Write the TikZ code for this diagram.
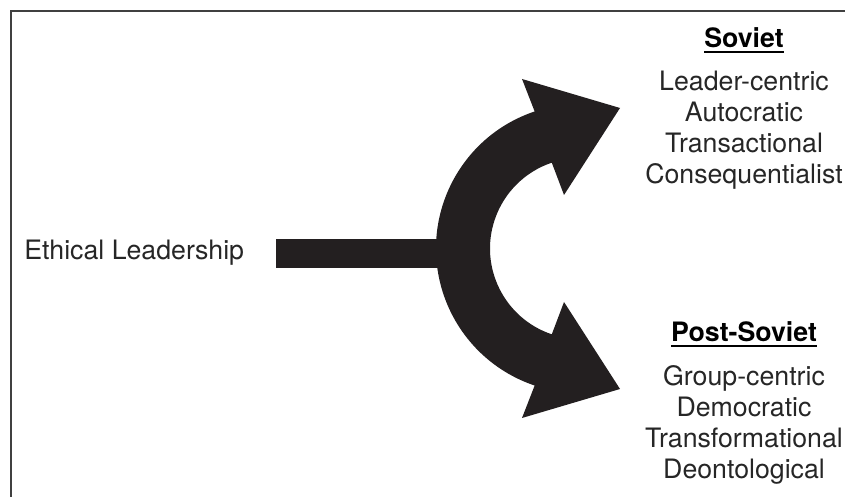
\documentclass[tikz,border=0pt]{standalone}
\usepackage{fontspec}
\setmainfont{TeX Gyre Heros}
\usetikzlibrary{calc,math}
\definecolor{arrowfill}{RGB}{35,31,32}
\newcommand{\headrule}[1]{\setbox0\hbox{#1}\rlap{\rule[-3.5pt]{\wd0}{1.4pt}}\box0}

\begin{document}
\begin{tikzpicture}
[x=0.025cm,y=0.025cm,
 item/.style={anchor=base,inner sep=0pt,text=black!85,font=\fontsize{19}{23}\selectfont},
 head/.style={item,text=black,font=\fontsize{19}{23}\selectfont\bfseries},]

\useasboundingbox (0,0) rectangle (845,497);

%Ring centre, outer and inner radii, end angle
\tikzmath{\cx = 580.5; \cy = 248.5; \R = 144.5; \r = 90.5; \t = 108.5; }
\coordinate (O) at (\cx,\cy);

%Frame, top and left edges
\draw[line width=1.2pt,black!75] (11,0) -- (11,486) -- (845,486);

%Stem
\fill[arrowfill] (276,229) rectangle (470,258);

%Split ring with both heads
\fill[arrowfill] (O) ++(\t:\R) arc[start angle=\t, end angle=360-\t, radius=\R]
  -- (522,79) -- (620,108) -- (564,195)
  -- ($(O)+(-\t:\r)$) arc[start angle=-\t, end angle=\t-360, radius=\r]
  -- (564,302) -- (620,389) -- (522,418) -- cycle;

%Labels
\node[item,anchor=base west] (ethical) at (24,237) {Ethical Leadership};

\node[head] (soviet) at (744,449) {\headrule{Soviet}};
\foreach \txt [count=\i] in {Leader-centric,Autocratic,Transactional,Consequentialist}
  \node[item] (soviet\i) at (744,{406-31*(\i-1)}) {\txt};

\node[head] (postsoviet) at (744,155) {\headrule{Post-Soviet}};
\foreach \txt [count=\i] in {Group-centric,Democratic,Transformational,Deontological}
  \node[item] (postsoviet\i) at (744,{111-31*(\i-1)}) {\txt};

\end{tikzpicture}
\end{document}
